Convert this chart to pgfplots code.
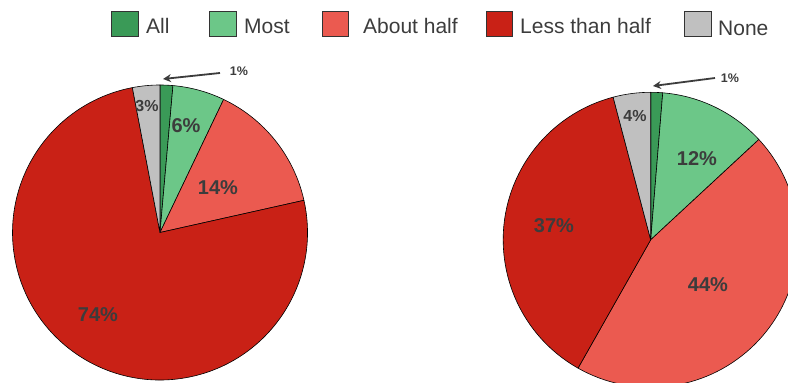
\documentclass[border=0pt]{standalone}
\usepackage{pgfplots}
\pgfplotsset{compat=1.18}
\usepackage{pgfplotstable}
\usepackage{fontspec}
\setmainfont{Liberation Sans}
\usetikzlibrary{arrows.meta}
\definecolor{cAll}{HTML}{3A9A57}
\definecolor{cMost}{HTML}{6CC788}
\definecolor{cHalf}{HTML}{EB5A50}
\definecolor{cLess}{HTML}{C92116}
\definecolor{cNone}{HTML}{C0C0C0}
\definecolor{txt}{HTML}{3C3C3C}

\pgfplotstableread{
cat value color
All 1.4 cAll
Most 5.7 cMost
Half 14.4 cHalf
Less 75.5 cLess
None 3.0 cNone
}\leftpie
\pgfplotstableread{
cat value color
All 1.3 cAll
Most 11.8 cMost
Half 45.1 cHalf
Less 37.7 cLess
None 4.1 cNone
}\rightpie

\newcommand\drawpie[4]{%
 \gdef\cum{0}%
 \pgfplotsforeachungrouped \i in {0,...,4}{%
   \pgfplotstablegetelem{\i}{value}\of{#1}\let\v\pgfplotsretval
   \pgfplotstablegetelem{\i}{color}\of{#1}\let\c\pgfplotsretval
   \pgfmathsetmacro\a{90-3.6*\cum}%
   \pgfmathsetmacro\b{90-3.6*(\cum+\v)}%
   \pgfmathsetmacro\newcum{\cum+\v}%
   \xdef\cum{\newcum}%
   \edef\temp{\noexpand\draw[fill=\c, draw=black, line width=0.6pt, line join=round] (axis cs:#2,#3) -- ++(\a:#4pt) arc[start angle=\a, end angle=\b, radius=#4pt] -- cycle;}%
   \temp
 }%
}

\begin{document}
\begin{tikzpicture}
\useasboundingbox (0,0) rectangle (788pt,383pt);
\begin{axis}[at={(0,0)}, anchor=south west, scale only axis, width=788pt, height=383pt,
  xmin=0, xmax=788, ymin=0, ymax=383, hide axis, clip=true]
\drawpie{\leftpie}{160}{150.5}{147.5}
\drawpie{\rightpie}{650.7}{143.2}{147.5}

% legend
\draw[fill=cAll, draw=black!80, line width=0.7pt] (axis cs:111,347) rectangle (axis cs:138,372);
\node[anchor=base west, inner sep=0, text=txt, font=\fontsize{21}{24}\selectfont] at (axis cs:146,349.5) {All};
\draw[fill=cMost, draw=black!80, line width=0.7pt] (axis cs:209,347) rectangle (axis cs:236,372);
\node[anchor=base west, inner sep=0, text=txt, font=\fontsize{21}{24}\selectfont] at (axis cs:244,349.5) {Most};
\draw[fill=cHalf, draw=black!80, line width=0.7pt] (axis cs:322,347) rectangle (axis cs:348,372);
\node[anchor=base west, inner sep=0, text=txt, font=\fontsize{21}{24}\selectfont] at (axis cs:363,349.5) {About half};
\draw[fill=cLess, draw=black!80, line width=0.7pt] (axis cs:486,347) rectangle (axis cs:512,372);
\node[anchor=base west, inner sep=0, text=txt, font=\fontsize{21}{24}\selectfont] at (axis cs:520,349.5) {Less than half};
\draw[fill=cNone, draw=black!80, line width=0.7pt] (axis cs:684,347) rectangle (axis cs:711,372);
\node[anchor=base west, inner sep=0, text=txt, font=\fontsize{21}{24}\selectfont] at (axis cs:718,347) {None};

% labels left
\node[inner sep=0, text=txt, font=\bfseries\fontsize{20}{22}\selectfont] at (axis cs:186,257) {6\%};
\node[inner sep=0, text=txt, font=\bfseries\fontsize{20}{22}\selectfont] at (axis cs:218,195) {14\%};
\node[inner sep=0, text=txt, font=\bfseries\fontsize{20}{22}\selectfont] at (axis cs:98,68) {74\%};
\node[inner sep=0, text=txt, font=\bfseries\fontsize{16}{18}\selectfont] at (axis cs:147,277) {3\%};
\node[inner sep=0, text=txt, font=\bfseries\fontsize{12.5}{14}\selectfont] at (axis cs:239,312) {1\%};
\draw[txt, line width=1.8pt, -{Stealth[length=8pt,width=8pt]}] (axis cs:220,310) -- (axis cs:163,304);

% labels right
\node[inner sep=0, text=txt, font=\bfseries\fontsize{16}{18}\selectfont] at (axis cs:635,267) {4\%};
\node[inner sep=0, text=txt, font=\bfseries\fontsize{20}{22}\selectfont] at (axis cs:697,224) {12\%};
\node[inner sep=0, text=txt, font=\bfseries\fontsize{20}{22}\selectfont] at (axis cs:554,157) {37\%};
\node[inner sep=0, text=txt, font=\bfseries\fontsize{20}{22}\selectfont] at (axis cs:708,98) {44\%};
\node[inner sep=0, text=txt, font=\bfseries\fontsize{12.5}{14}\selectfont] at (axis cs:730,305) {1\%};
\draw[txt, line width=1.8pt, -{Stealth[length=8pt,width=8pt]}] (axis cs:715,305) -- (axis cs:653,297);
\end{axis}
\end{tikzpicture}
\end{document}
